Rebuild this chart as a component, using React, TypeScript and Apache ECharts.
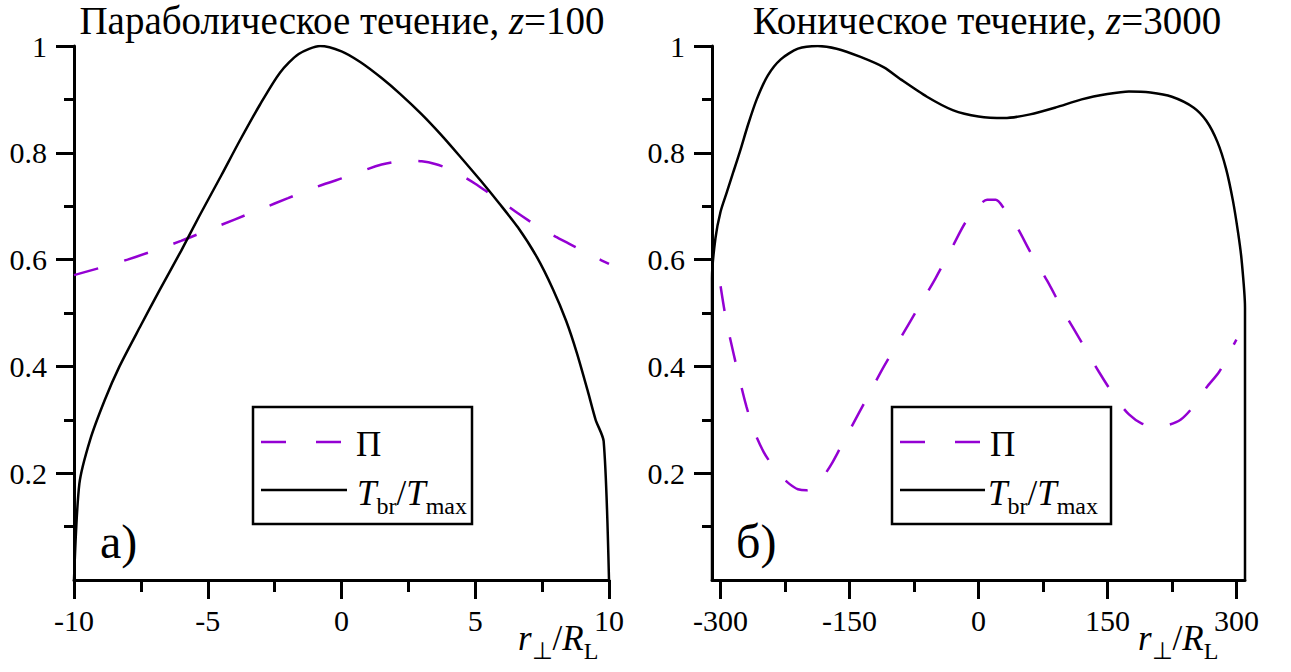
import React, { useEffect, useRef } from "react";
import * as echarts from "echarts";

const FONT = "Liberation Serif, Times New Roman, Times, serif";
const BLACK = "#000000";
const VIOLET = "#9400D3";

// Titles
const titleA = "Параболическое течение, ";
const zA = "100";
const titleB = "Коническое течение, ";
const zB = "3000";
const panelA = "а)";
const panelB = "б)";
const piName = "Π";

// Axis ticks
const xTicksA = [-10, -5, 0, 5, 10];
const xMinorA = [-7.5, -2.5, 2.5, 7.5];
const xTicksB = [-300, -150, 0, 150, 300];
const xMinorB = [-225, -75, 75, 225];
const yTicks = [0.2, 0.4, 0.6, 0.8, 1];
const yMinor = [0.1, 0.3, 0.5, 0.7, 0.9];

// Panel a: parabolic flow, z = 100
const tempA: [number, number][] = [
  [-10, 0], [-9.8, 0.18], [-9.4, 0.262], [-8.85, 0.337], [-8.3, 0.4], [-7.5, 0.477],
  [-6.8, 0.543], [-6.0, 0.616], [-5.3, 0.683], [-4.5, 0.757], [-3.8, 0.823], [-3.05, 0.89],
  [-2.3, 0.95], [-1.6, 0.985], [-0.8, 1.0], [0, 0.99], [0.7, 0.97], [1.5, 0.94],
  [2.2, 0.91], [3.0, 0.872], [3.7, 0.835], [4.4, 0.795], [5.2, 0.748], [5.9, 0.705],
  [6.6, 0.66], [7.3, 0.605], [7.9, 0.545], [8.4, 0.485], [8.8, 0.425], [9.2, 0.355],
  [9.5, 0.3], [9.8, 0.26], [10, 0],
];
const polA: [number, number][] = [
  [-10, 0.571], [-9, 0.585], [-8, 0.6], [-7, 0.617], [-6, 0.635], [-5, 0.655],
  [-4, 0.675], [-3, 0.695], [-2, 0.715], [-1, 0.735], [0, 0.752], [0.5, 0.76],
  [1, 0.77], [1.5, 0.778], [2, 0.783], [2.5, 0.785], [3, 0.784], [3.5, 0.779],
  [4, 0.77], [4.5, 0.757], [5, 0.742], [5.5, 0.725], [6, 0.708], [6.5, 0.69],
  [7, 0.673], [7.5, 0.657], [8, 0.643], [8.5, 0.63], [9, 0.617], [9.5, 0.604], [10, 0.592],
];

// Panel b: conical flow, z = 3000
const tempB: [number, number][] = [
  [-310, 0], [-310, 0.565], [-306, 0.64], [-300, 0.69], [-293, 0.725], [-285, 0.765],
  [-277, 0.805], [-268, 0.853], [-258, 0.9], [-245, 0.945], [-230, 0.975], [-210, 0.995],
  [-187, 1.0], [-165, 0.995], [-138, 0.98], [-110, 0.96], [-90, 0.937], [-60, 0.905],
  [-30, 0.88], [0, 0.868], [30, 0.865], [60, 0.872], [90, 0.885], [120, 0.9],
  [150, 0.91], [175, 0.915], [200, 0.913], [225, 0.905], [250, 0.885], [265, 0.86],
  [278, 0.82], [288, 0.77], [296, 0.71], [302, 0.65], [306, 0.6], [310, 0.51], [310, 0],
];
const polB: [number, number][] = [
  [-300, 0.55], [-295, 0.5], [-290, 0.46], [-280, 0.39], [-270, 0.325], [-260, 0.275],
  [-250, 0.24], [-240, 0.215], [-230, 0.195], [-220, 0.18], [-210, 0.17], [-200, 0.168],
  [-190, 0.175], [-180, 0.195], [-170, 0.22], [-160, 0.25], [-150, 0.28], [-130, 0.34],
  [-110, 0.4], [-90, 0.455], [-70, 0.51], [-50, 0.565], [-30, 0.625], [-15, 0.67],
  [0, 0.7], [10, 0.712], [20, 0.712], [30, 0.695], [45, 0.66], [60, 0.615], [80, 0.56],
  [100, 0.5], [120, 0.445], [140, 0.39], [160, 0.34], [175, 0.31], [190, 0.293],
  [205, 0.287], [220, 0.29], [235, 0.3], [250, 0.325], [265, 0.36], [280, 0.39],
  [290, 0.42], [300, 0.45],
];

const LABEL = { fontFamily: FONT, fontSize: 30, fontWeight: "normal", color: BLACK };
const LINE = { color: BLACK, width: 3 };

const mainX = (grid: number, min: number, max: number, ticks: number[]) => ({
  type: "value",
  gridIndex: grid,
  position: "bottom",
  min,
  max,
  axisLine: { show: true, onZero: false, lineStyle: LINE },
  axisTick: { show: true, length: 19, customValues: ticks, lineStyle: LINE },
  axisLabel: { ...LABEL, margin: 25, customValues: ticks, formatter: (v: number) => String(v) },
  splitLine: { show: false },
});
const minorX = (grid: number, min: number, max: number, ticks: number[]) => ({
  type: "value",
  gridIndex: grid,
  position: "bottom",
  min,
  max,
  axisLine: { show: false, onZero: false },
  axisTick: { show: true, length: 12, customValues: ticks, lineStyle: LINE },
  axisLabel: { show: false },
  splitLine: { show: false },
});
const mainY = (grid: number) => ({
  type: "value",
  gridIndex: grid,
  position: "left",
  min: 0,
  max: 1,
  axisLine: { show: true, onZero: false, lineStyle: LINE },
  axisTick: { show: true, length: 18, customValues: yTicks, lineStyle: LINE },
  axisLabel: { ...LABEL, margin: 27, customValues: yTicks, formatter: (v: number) => String(v) },
  splitLine: { show: false },
});
const minorY = (grid: number) => ({
  type: "value",
  gridIndex: grid,
  position: "left",
  min: 0,
  max: 1,
  axisLine: { show: false, onZero: false },
  axisTick: { show: true, length: 10, customValues: yMinor, lineStyle: LINE },
  axisLabel: { show: false },
  splitLine: { show: false },
});

const subRich = {
  i: { fontFamily: FONT, fontSize: 35, fontStyle: "italic", fontWeight: "normal", fill: BLACK },
  n: { fontFamily: FONT, fontSize: 35, fontWeight: "normal", fill: BLACK },
  s: { fontFamily: FONT, fontSize: 24, fontWeight: "normal", fill: BLACK, padding: [26, 0, 0, 0] },
};

const legend = (x0: number, y0: number, lineEnd: number, piX: number, textX: number) => [
  {
    type: "rect",
    z: 100,
    shape: { x: x0, y: y0, width: 219, height: 117 },
    style: { fill: "#ffffff", stroke: BLACK, lineWidth: 2.5 },
  },
  {
    type: "line",
    z: 101,
    shape: { x1: x0 + 8, y1: y0 + 35, x2: x0 + 88, y2: y0 + 35 },
    style: { stroke: VIOLET, lineWidth: 2.5, lineDash: [25, 30] },
  },
  {
    type: "text",
    z: 101,
    x: x0 + piX,
    y: y0 + 37,
    style: { text: piName, fontFamily: FONT, fontSize: 35, fill: BLACK, verticalAlign: "middle" },
  },
  {
    type: "line",
    z: 101,
    shape: { x1: x0 + 8, y1: y0 + 83, x2: x0 + lineEnd, y2: y0 + 83 },
    style: { stroke: BLACK, lineWidth: 2.5 },
  },
  {
    type: "text",
    z: 101,
    x: x0 + textX,
    y: y0 + 86,
    style: { text: "{i|T}{s|br}{n|/}{i|T}{s|max}", rich: subRich, verticalAlign: "middle" },
  },
];

const axisName = (x: number, y: number) => ({
  type: "text",
  z: 101,
  x,
  y,
  style: { text: "{i|r}{s|⊥}{n|/}{i|R}{s|L}", rich: subRich, verticalAlign: "middle" },
});

const panelLabel = (x: number, y: number, text: string) => ({
  type: "text",
  z: 101,
  x,
  y,
  style: { text, fontFamily: FONT, fontSize: 48, fill: BLACK, verticalAlign: "middle" },
});

const titleRich = {
  n: { fontFamily: FONT, fontSize: 39, lineHeight: 34, fontWeight: "normal", color: BLACK },
  i: { fontFamily: FONT, fontSize: 39, lineHeight: 34, fontWeight: "normal", fontStyle: "italic", color: BLACK },
};

const option: any = {
  animation: false,
  backgroundColor: "#ffffff",
  title: [
    {
      text: `{n|${titleA}}{i|z}{n|=${zA}}`,
      left: 342,
      top: 3,
      textAlign: "center",
      padding: 0,
      textStyle: { fontWeight: "normal", fontFamily: FONT, lineHeight: 34, rich: titleRich },
    },
    {
      text: `{n|${titleB}}{i|z}{n|=${zB}}`,
      left: 987,
      top: 3,
      textAlign: "center",
      padding: 0,
      textStyle: { fontWeight: "normal", fontFamily: FONT, lineHeight: 34, rich: titleRich },
    },
  ],
  grid: [
    { left: 74, top: 46, width: 535, height: 534, containLabel: false, outerBoundsMode: "none" },
    { left: 712, top: 46, width: 533, height: 534, containLabel: false, outerBoundsMode: "none" },
  ],
  xAxis: [
    mainX(0, -10, 10, xTicksA),
    minorX(0, -10, 10, xMinorA),
    mainX(1, -310, 310, xTicksB),
    minorX(1, -310, 310, xMinorB),
  ],
  yAxis: [mainY(0), minorY(0), mainY(1), minorY(1)],
  series: [
    {
      name: piName,
      type: "line",
      xAxisIndex: 0,
      yAxisIndex: 0,
      data: polA,
      symbol: "none",
      smooth: 0.3,
      lineStyle: { color: VIOLET, width: 2.5, type: [25, 27] },
    },
    {
      name: "T_br/T_max",
      type: "line",
      xAxisIndex: 0,
      yAxisIndex: 0,
      data: tempA,
      symbol: "none",
      smooth: 0.25,
      lineStyle: { color: BLACK, width: 2.5 },
    },
    {
      name: piName,
      type: "line",
      xAxisIndex: 2,
      yAxisIndex: 2,
      data: polB,
      symbol: "none",
      smooth: 0.3,
      lineStyle: { color: VIOLET, width: 2.5, type: [25, 27] },
    },
    {
      name: "T_br/T_max",
      type: "line",
      xAxisIndex: 2,
      yAxisIndex: 2,
      data: tempB,
      symbol: "none",
      smooth: 0.25,
      lineStyle: { color: BLACK, width: 2.5 },
    },
  ],
  graphic: [
    ...legend(253, 407, 94, 103, 104),
    ...legend(892, 407, 93, 98, 96),
    axisName(518, 638),
    axisName(1138, 638),
    panelLabel(100, 541, panelA),
    panelLabel(736, 541, panelB),
  ],
};

export default function App() {
  const ref = useRef<HTMLDivElement>(null);
  useEffect(() => {
    document.body.style.margin = "0";
    const chart = echarts.init(ref.current as HTMLDivElement, null, { renderer: "svg" });
    chart.setOption(option);
    return () => chart.dispose();
  }, []);
  return <div ref={ref} style={{ width: 1291, height: 672, background: "#ffffff" }} />;
}
